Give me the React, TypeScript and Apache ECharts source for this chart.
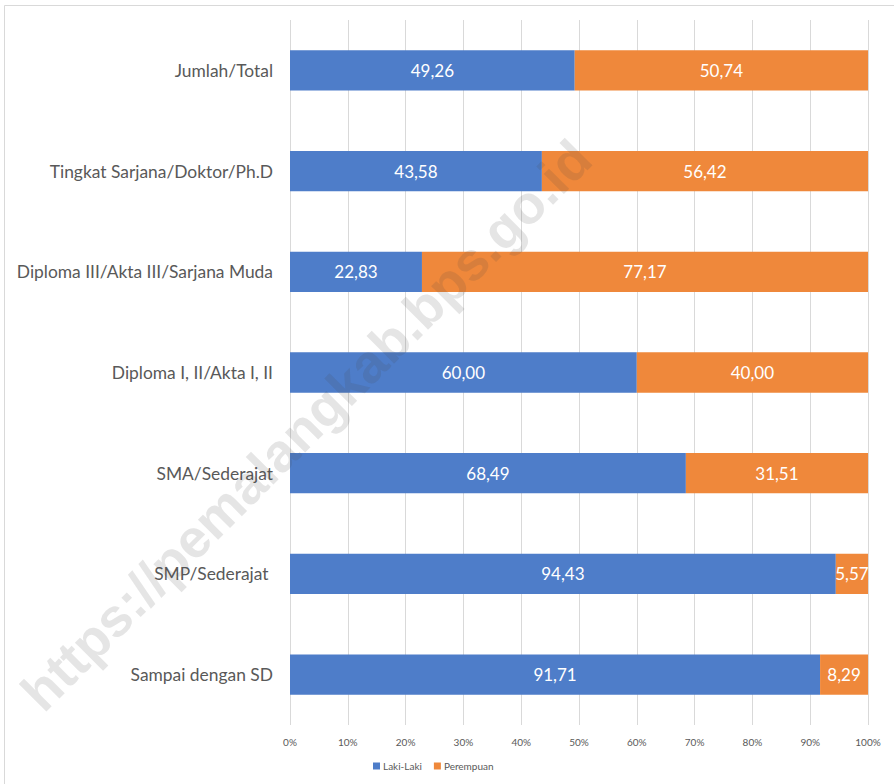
import React, { useEffect, useRef } from "react";
import * as echarts from "echarts";

const categories = [
  "Sampai dengan SD",
  "SMP/Sederajat ",
  "SMA/Sederajat",
  "Diploma I, II/Akta I, II",
  "Diploma III/Akta III/Sarjana Muda",
  "Tingkat Sarjana/Doktor/Ph.D",
  "Jumlah/Total",
];
const lakiLaki = [91.71, 94.43, 68.49, 60.0, 22.83, 43.58, 49.26];
const perempuan = [8.29, 5.57, 31.51, 40.0, 77.17, 56.42, 50.74];
const seriesNames = ["Laki-Laki", "Perempuan"];
const xTicks = [0, 10, 20, 30, 40, 50, 60, 70, 80, 90, 100];

const FONT = "Lato, 'Open Sans', sans-serif";
const fmt = (v: number) => v.toFixed(2).replace(".", ",");

export default function App() {
  const ref = useRef<HTMLDivElement>(null);
  useEffect(() => {
    if (!ref.current) return;
    const chart = echarts.init(ref.current, undefined, { renderer: "svg" });
    const label = {
      show: true,
      position: "inside",
      color: "#ffffff",
      fontSize: 17,
      fontFamily: FONT,
      formatter: (p: any) => fmt(p.value),
    };
    chart.setOption({
      animation: false,
      backgroundColor: "#ffffff",
      grid: { left: 290, right: 26, top: 20, bottom: 59, containLabel: false },
      xAxis: {
        type: "value",
        min: xTicks[0],
        max: xTicks[xTicks.length - 1],
        interval: 10,
        axisLine: { show: false },
        axisTick: { show: false },
        splitLine: { show: true, lineStyle: { color: "#d9d9d9", width: 1 } },
        axisLabel: {
          formatter: (v: number) => v + "%",
          color: "#595959",
          fontSize: 10,
          fontFamily: FONT,
          margin: 12,
        },
      },
      yAxis: {
        type: "category",
        data: categories,
        axisLine: { show: false },
        axisTick: { show: false },
        axisLabel: { color: "#595959", fontSize: 17.4, fontFamily: FONT, margin: 17 },
      },
      legend: {
        bottom: 8,
        left: 368,
        itemWidth: 7,
        itemHeight: 7,
        itemGap: 12,
        icon: "rect",
        textStyle: { color: "#595959", fontSize: 10, fontFamily: FONT, padding: [0, 0, 0, -2] },
        data: seriesNames,
      },
      series: [
        {
          name: seriesNames[0],
          type: "bar",
          stack: "total",
          data: lakiLaki,
          barWidth: "40%",
          itemStyle: { color: "#4e7dc9" },
          label,
        },
        {
          name: seriesNames[1],
          type: "bar",
          stack: "total",
          data: perempuan,
          barWidth: "40%",
          itemStyle: { color: "#ef883b" },
          label,
        },
      ],
      graphic: [
        {
          type: "rect",
          shape: { x: 4.5, y: 5.5, width: 1000, height: 1000 },
          style: { fill: "none", stroke: "#d9d9d9", lineWidth: 1 },
          z: 0,
        },
        {
          type: "text",
          x: 306,
          y: 425,
          rotation: Math.PI / 4,
          z: 100,
          style: {
            text: "https://pemalangkab.bps.go.id",
            font: "bold 54px 'Liberation Sans', Arial, sans-serif",
            fill: "rgba(70,70,70,0.14)",
            align: "center",
            verticalAlign: "middle",
          },
        },
      ],
    });
    return () => chart.dispose();
  }, []);
  return (
    <div
      ref={ref}
      style={{ position: "fixed", left: 0, top: 0, width: 894, height: 784 }}
    />
  );
}
